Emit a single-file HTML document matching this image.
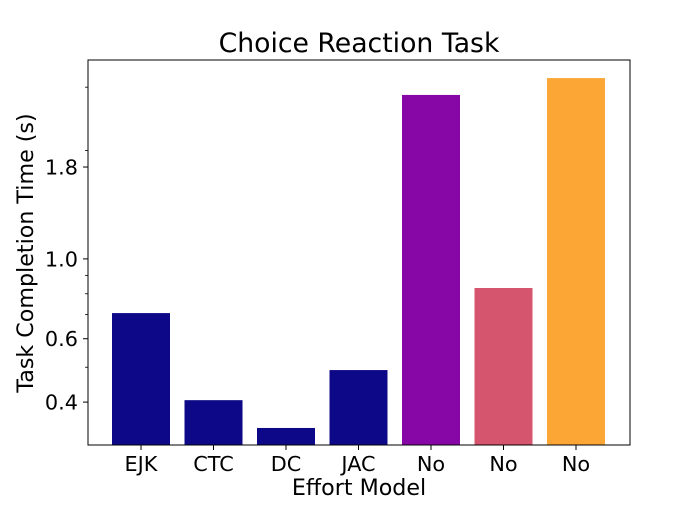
<!DOCTYPE html>
<html><head><meta charset="utf-8"><style>
body{margin:0;background:#fff}
svg text{font-family:"DejaVu Sans","Liberation Sans",sans-serif;fill:#000}
</style></head><body>
<svg id="chart" width="700" height="500" xmlns="http://www.w3.org/2000/svg">
<rect width="700" height="500" fill="#fff"/>
<g id="bars"></g>
<g id="axes"></g>
<text x="359" y="52" font-size="26.7" text-anchor="middle">Choice Reaction Task</text>
<text x="359" y="495" font-size="22.2" text-anchor="middle">Effort Model</text>
<text transform="translate(33,253) rotate(-90)" font-size="22.2" text-anchor="middle">Task Completion Time (s)</text>
</svg>
<script>
const categories=["EJK","CTC","DC","JAC","No","No","No"];
const values=[0.707,0.405,0.339,0.491,2.855,0.830,3.18];
const colors=["#0d0887","#0d0887","#0d0887","#0d0887","#8707a6","#d5546e","#fca636"];
const majorTicks=[0.4,0.6,1.0,1.8];
const majorLabels=["0.4","0.6","1.0","1.8"];
const minorTicks=[0.5,0.7,0.8,0.9,2,3];
const L=88,R=630,T=60,B=445;
const yMin=0.304,yMax=3.57;
function y(v){return B-(Math.log(v)-Math.log(yMin))/(Math.log(yMax)-Math.log(yMin))*(B-T);}
const step=72.5,x0=141,bw=58;
function xc(i){return x0+i*step;}
const NS="http://www.w3.org/2000/svg";
const bars=document.getElementById('bars'),axes=document.getElementById('axes');
function mk(tag,at,parent){const e=document.createElementNS(NS,tag);for(const k in at)e.setAttribute(k,at[k]);parent.appendChild(e);return e;}
values.forEach((v,i)=>{
 const r=mk('rect',{x:xc(i)-bw/2,y:y(v),width:bw,height:B-y(v),fill:colors[i]},bars);
 
 
 mk('line',{x1:xc(i),x2:xc(i),y1:B,y2:B+5,stroke:'#000','stroke-width':1},axes);
 const t=mk('text',{x:xc(i),y:B+26,'font-size':20.8,'text-anchor':'middle'},axes);
 t.textContent=categories[i];
 
 
});
majorTicks.forEach((v,i)=>{
 mk('line',{x1:L-5,x2:L,y1:y(v),y2:y(v),stroke:'#000','stroke-width':1},axes);
 const t=mk('text',{x:L-10,y:y(v)+7.5,'font-size':20.8,'text-anchor':'end'},axes);
 t.textContent=majorLabels[i];
 
 
});
minorTicks.forEach(v=>{mk('line',{x1:L-3,x2:L,y1:y(v),y2:y(v),stroke:'#000','stroke-width':0.8},axes);});
const f=mk('rect',{x:L,y:T,width:R-L,height:B-T,fill:'none',stroke:'#000','stroke-width':1},axes);


</script>
</body></html>
